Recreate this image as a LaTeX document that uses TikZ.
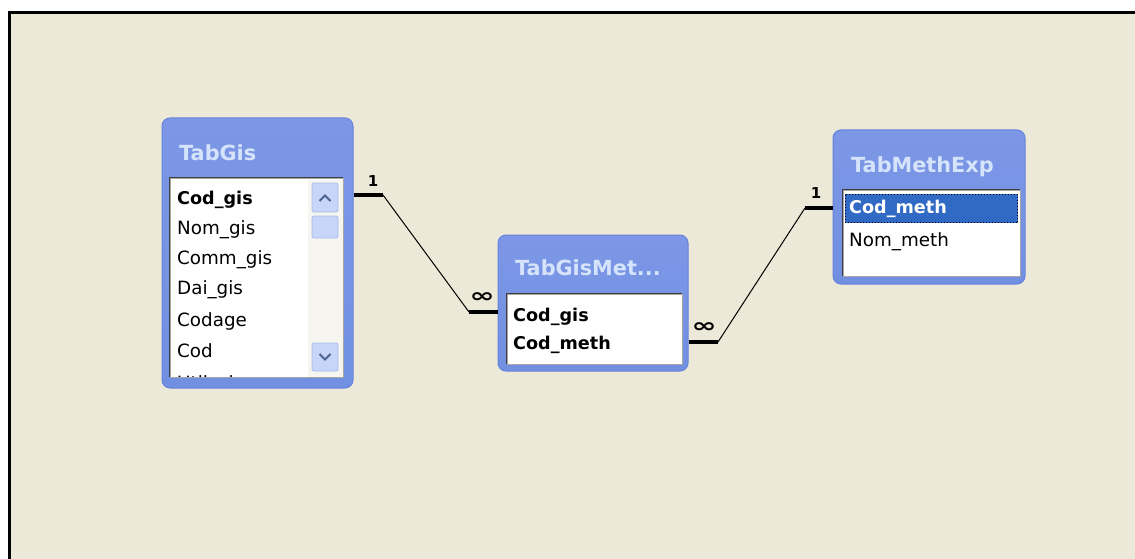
\documentclass[tikz,border=0pt]{standalone}
\usepackage{fontspec}
\usepackage{graphicx}
\setmainfont{DejaVu Sans}
\newfontfamily\dvs{DejaVu Sans}
\definecolor{canvas}{HTML}{ECE9D8}
\definecolor{tblblue}{HTML}{7190E2}
\definecolor{tbltop}{HTML}{7D97E6}
\definecolor{tblline}{HTML}{6583DA}
\definecolor{ttltext}{HTML}{D6E4FB}
\definecolor{selblue}{HTML}{316AC5}
\definecolor{sbbtn}{HTML}{C6D5F8}
\definecolor{sbline}{HTML}{A9BCEB}
\definecolor{sbtrack}{HTML}{F6F5F0}
\definecolor{sbarrow}{HTML}{4C6390}
\newcommand\ttlfont{\dvs\fontsize{20.8}{24}\bfseries\selectfont}
\newcommand\fldfont{\dvs\fontsize{18.3}{22}\selectfont}
\newcommand\keyfont{\dvs\fontsize{17.6}{22}\bfseries\selectfont}
\newcommand\cardfont{\dvs\fontsize{15}{17}\bfseries\selectfont}
\newcommand\manysign{\scalebox{2.0}[1.3]{∞}}
\tikzset{
  tbl/.style={draw=tblline, line width=1pt, top color=tbltop, bottom color=tblblue,
    rounded corners=8pt, inner sep=0pt},
  lst/.style={fill=white, draw=gray!70, line width=0.8pt, inner sep=0pt},
  ttl/.style={text=ttltext, font=\ttlfont, anchor=west, inner sep=0pt},
  fld/.style={font=\fldfont, anchor=west, inner sep=0pt},
  keyfld/.style={font=\keyfont, anchor=west, inner sep=0pt},
  sbbutton/.style={fill=sbbtn, draw=sbline, line width=0.8pt, rounded corners=2pt},
  chevron/.style={draw=sbarrow, line width=2pt},
  rel/.style={line width=1pt},
  relend/.style={line width=4pt},
  card/.style={font=\cardfont, inner sep=0pt},
}
\begin{document}
\begin{tikzpicture}[x=1pt, y=-1pt]
\useasboundingbox (0,0) rectangle (1135,559);
% window area with its top and left frame
\fill[white] (0,0) rectangle (1135,559);
\fill[canvas] (9,12) rectangle (1135,559);
\draw[line width=3pt] (9,559) -- (9,12.5) -- (1135,12.5);

% ---- TabGis ----
\node[tbl, minimum width=191pt, minimum height=270pt] (tabgis) at (257.5,253) {};
\node[ttl] (tabgis-t) at (179,153) {TabGis};
\node[lst, minimum width=173pt, minimum height=199pt] (tabgis-l) at (256.5,277.5) {};
\draw[black!75, line width=1pt] (tabgis-l.south west) -- (tabgis-l.north west) -- (tabgis-l.north east);
\begin{scope}
  \clip (170.5,178.5) rectangle (342.5,376.5);
  \node[keyfld] (g1) at (177,200) {Cod\_gis};
  \node[fld] (g2) at (177,230) {Nom\_gis};
  \node[fld] (g3) at (177,260) {Comm\_gis};
  \node[fld] (g4) at (177,290) {Dai\_gis};
  \node[fld] (g5) at (177,321) {Codage};
  \node[fld] (g6) at (177,351) {Cod};
  \node[fld] (g7) at (177,385) {Util\_gis};
\end{scope}
% scroll bar
\fill[sbtrack] (308,179.5) rectangle (342.5,376.5);
\draw[sbbutton] (312,183) rectangle (338,212);
\draw[sbbutton] (312,216) rectangle (338,238);
\draw[sbbutton] (312,343) rectangle (338,371);
\draw[chevron] (319.5,201) -- (325,195.5) -- (330.5,201);
\draw[chevron] (319.5,354) -- (325,359.5) -- (330.5,354);

% ---- TabGisMet... ----
\node[tbl, minimum width=190pt, minimum height=136pt] (gismet) at (593,303) {};
\node[ttl] (gismet-t) at (515,268) {TabGisMet...};
\node[lst, minimum width=175pt, minimum height=70pt] (gismet-l) at (594.5,329) {};
\draw[black!75, line width=1pt] (gismet-l.south west) -- (gismet-l.north west) -- (gismet-l.north east);
\node[keyfld] (m1) at (513,317) {Cod\_gis};
\node[keyfld] (m2) at (513,345) {Cod\_meth};

% ---- TabMethExp ----
\node[tbl, minimum width=192pt, minimum height=154pt] (methexp) at (929,207) {};
\node[ttl] (methexp-t) at (851,167) {TabMethExp};
\node[lst, minimum width=177pt, minimum height=86pt] (methexp-l) at (931.5,233) {};
\draw[black!75, line width=1pt] (methexp-l.south west) -- (methexp-l.north west) -- (methexp-l.north east);
\fill[selblue] (845,194) rectangle (1018,223);
\draw[black, dotted, line width=1pt] (845.5,194.5) rectangle (1017.5,222.5);
\node[keyfld, text=white] (e1) at (849,209) {Cod\_meth};
\node[fld] (e2) at (849,242) {Nom\_meth};

% ---- relationships ----
\coordinate (r1a) at (383,195);
\coordinate (r1b) at (469,312);
\draw[relend] (tabgis.east |- r1a) -- (r1a);
\draw[rel] (r1a) -- (r1b);
\draw[relend] (r1b) -- (gismet.west |- r1b);
\node[card] (r1one) at (373,181) {1};
\node[card] (r1many) at (482,298) {\manysign};

\coordinate (r2a) at (718,342);
\coordinate (r2b) at (805,208);
\draw[relend] (gismet.east |- r2a) -- (r2a);
\draw[rel] (r2a) -- (r2b);
\draw[relend] (r2b) -- (methexp.west |- r2b);
\node[card] (r2many) at (704,328) {\manysign};
\node[card] (r2one) at (816,193) {1};
\end{tikzpicture}
\end{document}
